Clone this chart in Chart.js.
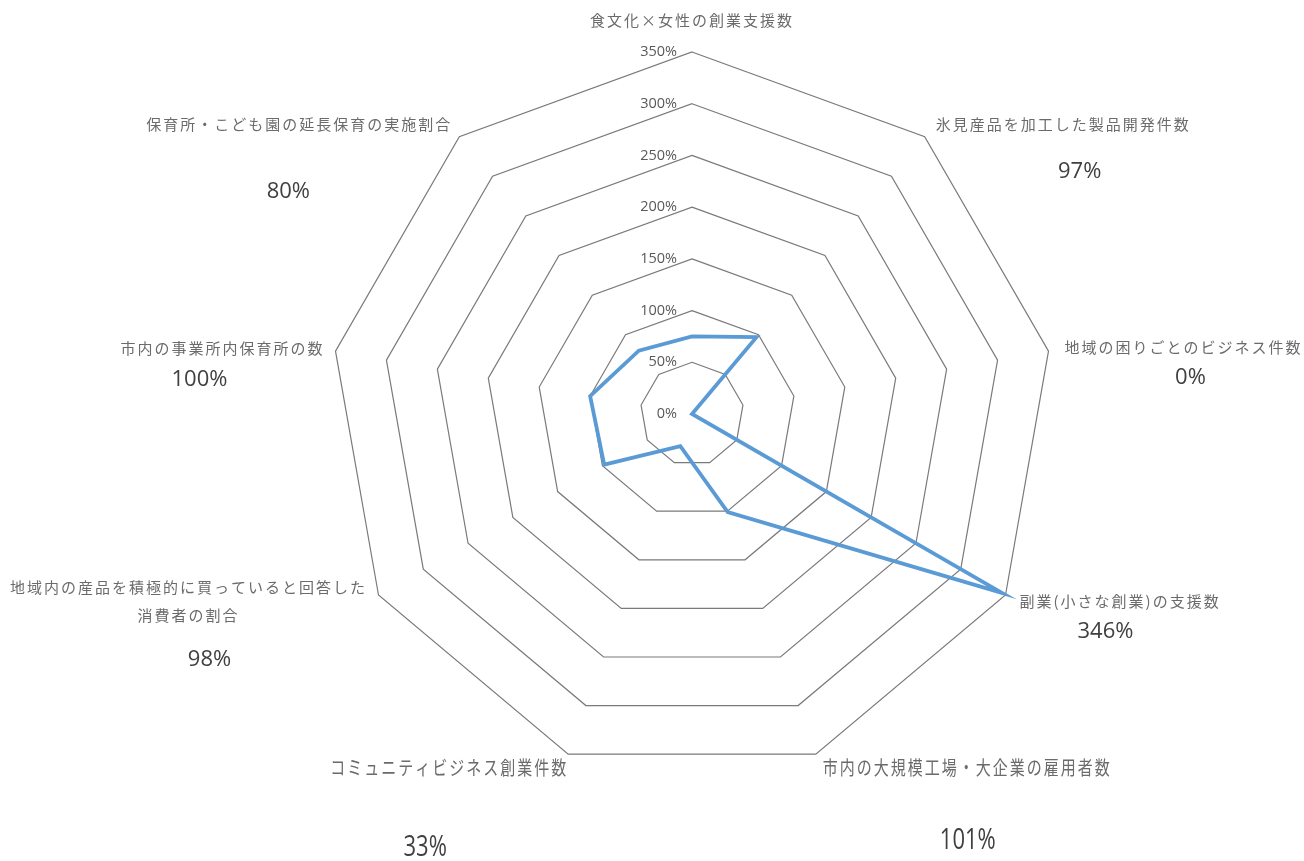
<!DOCTYPE html>
<html>
<head>
<meta charset="utf-8">
<script src="https://cdn.jsdelivr.net/npm/chart.js@4/dist/chart.umd.min.js"></script>
<style>
  html, body { margin: 0; padding: 0; background: #ffffff; }
  #wrap { width: 1304px; height: 861px; }
</style>
</head>
<body>
<div id="wrap"><canvas id="c" width="1304" height="861"></canvas></div>
<script>
// ---- data ----
const categories = [
  '食文化×女性の創業支援数',
  '氷見産品を加工した製品開発件数',
  '地域の困りごとのビジネス件数',
  '副業(小さな創業)の支援数',
  '市内の大規模工場・大企業の雇用者数',
  'コミュニティビジネス創業件数',
  ['地域内の産品を積極的に買っていると回答した', '消費者の割合'],
  '市内の事業所内保育所の数',
  '保育所・こども園の延長保育の実施割合'
];
const values = [75, 97, 0, 346, 101, 33, 98, 100, 80];
const showValueLabel = [false, true, true, true, true, true, true, true, true];
const scaleMin = 0;
const scaleMax = 350;
const scaleStep = 50;

// ---- label styling (offsets from the outer vertex of each axis) ----
const catAlign  = ['center', 'left', 'left', 'left', 'left', 'right', 'center', 'right', 'right'];
const catOffset = [[0, -32], [11, -12], [16, -4], [14, 6], [7, 13], [-2, 13], [-190, -8], [-13, -3], [-9, -12]];
const valOffset = [[0, 0], [155, 35], [142, 27], [100, 37], [152, 87], [-143, 94], [-169, 65], [-136, 29], [-171, 55]];
const vStretch  = [1, 1, 1, 1, 1.3, 1.3, 1, 1, 1];

const labelPlugin = {
  id: 'labelPlugin',
  afterDraw(chart) {
    const ctx = chart.ctx;
    const r = chart.scales.r;
    const outer = r.drawingArea;
    ctx.save();
    // tick labels, left of the vertical axis
    ctx.font = '14.5px "Open Sans", "Noto Sans", sans-serif';
    ctx.fillStyle = '#595959';
    ctx.textAlign = 'right';
    ctx.textBaseline = 'middle';
    r.ticks.forEach(t => {
      const d = r.getDistanceFromCenterForValue(t.value);
      ctx.fillText(t.value + '%', r.xCenter - 15, r.yCenter - d);
    });
    // category labels and value labels
    categories.forEach((cat, i) => {
      const p = r.getPointPosition(i, outer);
      const lines = Array.isArray(cat) ? cat : [cat];
      ctx.save();
      ctx.font = '15px "Noto Sans CJK JP", sans-serif';
      ctx.letterSpacing = '2px';
      ctx.fillStyle = '#6b6b6b';
      ctx.textAlign = catAlign[i];
      ctx.textBaseline = 'middle';
      const lx = p.x + catOffset[i][0];
      const ly = p.y + catOffset[i][1];
      lines.forEach((ln, k) => {
        ctx.save();
        ctx.translate(lx, ly + k * 28);
        ctx.scale(1, vStretch[i]);
        ctx.fillText(ln, catAlign[i] === 'right' ? 2 : 0, 0);
        ctx.restore();
      });
      ctx.restore();
      if (showValueLabel[i]) {
        ctx.save();
        ctx.font = '22px "Open Sans", "Noto Sans", sans-serif';
        ctx.fillStyle = '#404040';
        ctx.textAlign = 'center';
        ctx.textBaseline = 'middle';
        ctx.translate(p.x + valOffset[i][0], p.y + valOffset[i][1]);
        ctx.scale(1, vStretch[i]);
        ctx.fillText(values[i] + '%', 0, 0);
        ctx.restore();
      }
    });
    ctx.restore();
  }
};

new Chart(document.getElementById('c'), {
  type: 'radar',
  data: {
    labels: categories,
    datasets: [{
      data: values,
      borderColor: '#5B9BD5',
      borderWidth: 3.8,
      backgroundColor: 'rgba(0,0,0,0)',
      fill: false,
      pointRadius: 0,
      pointHoverRadius: 0,
      tension: 0,
      borderJoinStyle: 'miter'
    }]
  },
  options: {
    responsive: false,
    animation: false,
    devicePixelRatio: 1,
    layout: { padding: { left: 80, right: 0, top: 52, bottom: 85 } },
    plugins: { legend: { display: false }, tooltip: { enabled: false } },
    scales: {
      r: {
        min: scaleMin,
        max: scaleMax,
        beginAtZero: true,
        ticks: { display: false, stepSize: scaleStep },
        pointLabels: { display: false },
        angleLines: { display: false },
        grid: { color: '#7a7a7a', lineWidth: 1.2 }
      }
    }
  },
  plugins: [labelPlugin]
});
</script>
</body>
</html>
